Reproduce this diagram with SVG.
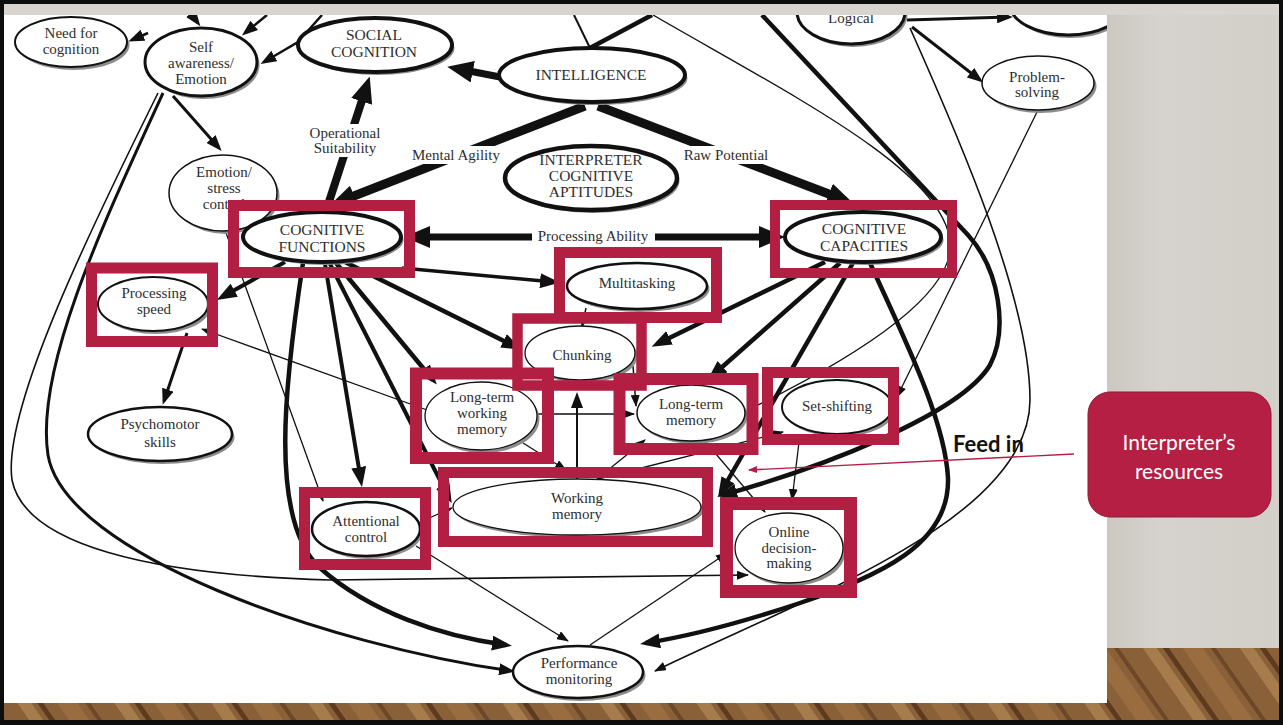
<svg xmlns="http://www.w3.org/2000/svg" width="1283" height="725" viewBox="0 0 1283 725">
<defs>
<style>
.e{fill:#fff;stroke:#111}
.sh{fill:#8c8c8c}
.t{font-family:"Liberation Serif","Times New Roman",serif;font-size:15px;fill:#2e2e2e;text-anchor:middle}
.cp{font-size:15.5px}
.rb{fill:none;stroke:#b31f43}
.c path,.c line,.c polyline{fill:none;stroke:#111;stroke-linecap:butt}
.lb{fill:#fff}
.rt{font-family:Lato,"Open Sans",sans-serif;font-size:21px;fill:#fff;text-anchor:middle}
</style>
<marker id="aS" viewBox="0 0 12 9" markerUnits="userSpaceOnUse" markerWidth="12" markerHeight="9" refX="11" refY="4.5" orient="auto"><path d="M0,0L12,4.5L0,9z" fill="#111"/></marker>
<marker id="aM" viewBox="0 0 16 12" markerUnits="userSpaceOnUse" markerWidth="16" markerHeight="12" refX="12" refY="6" orient="auto"><path d="M0,0L16,6L0,12z" fill="#111"/></marker>
<marker id="aL" viewBox="0 0 20 15" markerUnits="userSpaceOnUse" markerWidth="20" markerHeight="15" refX="14" refY="7.5" orient="auto"><path d="M0,0L20,7.5L0,15z" fill="#111"/></marker>
<marker id="aB" viewBox="0 0 26 22" markerUnits="userSpaceOnUse" markerWidth="26" markerHeight="22" refX="14" refY="11" orient="auto-start-reverse"><path d="M0,0L26,11L0,22z" fill="#111"/></marker>
<marker id="aR" viewBox="0 0 9 7" markerUnits="userSpaceOnUse" markerWidth="9" markerHeight="7" refX="8" refY="3.5" orient="auto"><path d="M0,0L9,3.5L0,7z" fill="#b31f43"/></marker>
<clipPath id="cw"><rect x="4" y="15" width="1103" height="688"/></clipPath>
<linearGradient id="gp" x1="0" y1="0" x2="1" y2="0"><stop offset="0" stop-color="#cbc7c1"/><stop offset="0.3" stop-color="#d6d3ce"/><stop offset="1" stop-color="#d2cec8"/></linearGradient>
<pattern id="wp" patternUnits="userSpaceOnUse" width="97" height="80" patternTransform="skewX(35)">
<rect width="97" height="80" fill="#8a6039"/>
<rect x="10" width="14" height="80" fill="#a67c4d"/>
<rect x="30" width="6" height="80" fill="#5e3b1f"/>
<rect x="50" width="20" height="80" fill="#9a6d40"/>
<rect x="78" width="5" height="80" fill="#6e4728"/>
</pattern>
</defs>

<rect x="0" y="0" width="1283" height="725" fill="#0d0d0d"/>
<rect x="4" y="4" width="1275" height="716" fill="#d8d5d0"/>
<rect x="1107" y="15" width="172" height="633" fill="url(#gp)"/>
<rect x="4" y="648" width="1275" height="72" fill="url(#wp)"/>
<rect x="4" y="15" width="1103" height="688" fill="#fff"/>

<g clip-path="url(#cw)">
<g id="connectors" class="c">
<line x1="192" y1="15" x2="198" y2="23" stroke-width="2.5" marker-end="url(#aM)"/>
<line x1="267" y1="15" x2="245" y2="33" stroke-width="2.5" marker-end="url(#aM)"/>
<polyline points="322,15 298,42 264,62" stroke-width="2.5" marker-end="url(#aM)"/>
<line x1="148" y1="33" x2="132" y2="40" stroke-width="2.5" marker-end="url(#aM)"/>
<line x1="173" y1="96" x2="219" y2="148" stroke-width="3" marker-end="url(#aM)"/>
<path d="M158,93 C90,230 2,410 12,480 C25,545 150,575 330,580 L748,575" stroke-width="1.6" marker-end="url(#aS)"/>
<path d="M163,93 C100,230 35,370 48,455 C65,555 330,645 511,671" stroke-width="3" marker-end="url(#aM)"/>
<line x1="225" y1="230" x2="323" y2="501" stroke-width="1.3" marker-end="url(#aS)"/>
<line x1="574" y1="15" x2="590" y2="48" stroke-width="2"/>
<line x1="590" y1="48" x2="652" y2="15" stroke-width="4.5"/>
<line x1="500" y1="77" x2="459" y2="69" stroke-width="7" marker-end="url(#aB)"/>
<line x1="585" y1="106" x2="341" y2="201" stroke-width="9" marker-end="url(#aB)"/>
<line x1="598" y1="106" x2="842" y2="199" stroke-width="9" marker-end="url(#aB)"/>
<line x1="326" y1="211" x2="366" y2="88" stroke-width="8" marker-end="url(#aB)"/>
<line x1="416" y1="237" x2="773" y2="237" stroke-width="7" marker-start="url(#aB)" marker-end="url(#aB)"/>
<line x1="285" y1="262" x2="222" y2="297" stroke-width="4" marker-end="url(#aL)"/>
<path d="M303,263 C285,380 268,520 320,568 C370,612 440,636 506,645" stroke-width="4.5" marker-end="url(#aL)"/>
<line x1="325" y1="264" x2="361" y2="481" stroke-width="4" marker-end="url(#aL)"/>
<line x1="330" y1="264" x2="449" y2="498" stroke-width="4" marker-end="url(#aL)"/>
<line x1="336" y1="263" x2="433" y2="380" stroke-width="4.5" marker-end="url(#aL)"/>
<line x1="345" y1="262" x2="516" y2="347" stroke-width="4.5" marker-end="url(#aL)"/>
<line x1="402" y1="268" x2="554" y2="282" stroke-width="3.5" marker-end="url(#aL)"/>
<line x1="187" y1="333" x2="164" y2="401" stroke-width="3" marker-end="url(#aM)"/>
<line x1="427" y1="410" x2="202" y2="329" stroke-width="1.3" marker-end="url(#aS)"/>
<line x1="825" y1="262" x2="657" y2="344" stroke-width="4.5" marker-end="url(#aL)"/>
<line x1="840" y1="263" x2="712" y2="376" stroke-width="4.5" marker-end="url(#aL)"/>
<line x1="853" y1="263" x2="721" y2="492" stroke-width="4.5" marker-end="url(#aL)"/>
<path d="M870,263 C905,340 945,420 948,478 C950,545 880,575 800,603 C740,623 690,636 646,643" stroke-width="4.5" marker-end="url(#aL)"/>
<path d="M762,15 L968,235 C1000,270 1008,330 990,365 C960,415 820,468 723,495" stroke-width="4.5" marker-end="url(#aL)"/>
<line x1="907" y1="20" x2="1009" y2="17" stroke-width="3" marker-end="url(#aM)"/>
<line x1="912" y1="27" x2="980" y2="80" stroke-width="3" marker-end="url(#aM)"/>
<path d="M910,28 C960,140 1030,300 1030,400 C1030,520 800,600 655,671" stroke-width="1.6" marker-end="url(#aS)"/>
<path d="M653,15 C800,100 940,170 950,240 C958,300 830,370 748,410" stroke-width="1.3"/>
<line x1="1038" y1="110" x2="897" y2="397" stroke-width="1.3" marker-end="url(#aS)"/>
<line x1="800" y1="434" x2="792" y2="500" stroke-width="1.3" marker-end="url(#aS)"/>
<line x1="598" y1="479" x2="783" y2="432" stroke-width="1.3" marker-end="url(#aS)"/>
<line x1="597" y1="479" x2="645" y2="440" stroke-width="1.3" marker-end="url(#aS)"/>
<line x1="577" y1="479" x2="577" y2="396" stroke-width="2" marker-end="url(#aM)"/>
<line x1="537" y1="414" x2="634" y2="414" stroke-width="1.3" marker-end="url(#aS)"/>
<line x1="523" y1="443" x2="566" y2="470" stroke-width="1.3" marker-end="url(#aS)"/>
<line x1="633" y1="366" x2="636" y2="406" stroke-width="1.5" marker-end="url(#aS)"/>
<line x1="586" y1="308" x2="582" y2="327" stroke-width="1.5" marker-end="url(#aS)"/>
<line x1="420" y1="522" x2="452" y2="508" stroke-width="1.3" marker-end="url(#aS)"/>
<line x1="416" y1="546" x2="568" y2="641" stroke-width="1.3" marker-end="url(#aS)"/>
<line x1="590" y1="645" x2="727" y2="553" stroke-width="1.3" marker-end="url(#aS)"/>
<line x1="705" y1="441" x2="765" y2="512" stroke-width="1.3" marker-end="url(#aS)"/>
<rect class="lb" x="306" y="124" width="78" height="33"/>
<text class="t" x="345" y="138">Operational</text>
<text class="t" x="345" y="153">Suitability</text>
<rect class="lb" x="408" y="146" width="96" height="18"/>
<text class="t" x="456" y="160">Mental Agility</text>
<rect class="lb" x="680" y="146" width="92" height="18"/>
<text class="t" x="726" y="160">Raw Potential</text>
<rect class="lb" x="532" y="227" width="123" height="19"/>
<text class="t" x="593" y="241">Processing Ability</text>
</g>

<g id="n-need"><ellipse class="sh" cx="73.5" cy="45" rx="56" ry="25"/><ellipse class="e" cx="71" cy="42" rx="56" ry="25" stroke-width="2"/><text class="t" x="71" y="38">Need for</text><text class="t" x="71" y="54">cognition</text></g>
<g id="n-self"><ellipse class="sh" cx="203.5" cy="65" rx="56" ry="34"/><ellipse class="e" cx="201" cy="62" rx="56" ry="34" stroke-width="3"/><text class="t" x="201" y="52">Self</text><text class="t" x="201" y="68">awareness/</text><text class="t" x="201" y="84">Emotion</text></g>
<g id="n-social"><ellipse class="sh" cx="377.5" cy="48" rx="77" ry="27"/><ellipse class="e" cx="375" cy="45" rx="77" ry="27" stroke-width="4"/><text class="t cp" x="374" y="40">SOCIAL</text><text class="t cp" x="374" y="57">COGNITION</text></g>
<g id="n-intelligence"><ellipse class="sh" cx="594.5" cy="78" rx="93" ry="27"/><ellipse class="e" cx="592" cy="75" rx="93" ry="27" stroke-width="4"/><text class="t cp" x="591" y="80">INTELLIGENCE</text></g>
<g id="n-interpreter"><ellipse class="sh" cx="593.5" cy="181" rx="86" ry="32"/><ellipse class="e" cx="591" cy="178" rx="86" ry="32" stroke-width="4.5"/><text class="t cp" x="591" y="165">INTERPRETER</text><text class="t cp" x="591" y="181">COGNITIVE</text><text class="t cp" x="591" y="197">APTITUDES</text></g>
<g id="n-logical"><ellipse class="sh" cx="853.5" cy="15" rx="54" ry="32"/><ellipse class="e" cx="851" cy="12" rx="54" ry="32" stroke-width="3"/><text class="t" x="851" y="23">Logical</text></g>
<g id="n-topright"><ellipse class="sh" cx="1070.5" cy="7" rx="58" ry="31"/><ellipse class="e" cx="1068" cy="4" rx="58" ry="31" stroke-width="3"/></g>
<g id="n-problem"><ellipse class="sh" cx="1040.5" cy="86" rx="56" ry="27"/><ellipse class="e" cx="1038" cy="83" rx="56" ry="27" stroke-width="1.5"/><text class="t" x="1037" y="82">Problem-</text><text class="t" x="1037" y="97">solving</text></g>
<g id="n-emotion"><ellipse class="sh" cx="225.5" cy="196" rx="54" ry="38"/><ellipse class="e" cx="223" cy="193" rx="54" ry="38" stroke-width="1.5"/><text class="t" x="224" y="177">Emotion/</text><text class="t" x="224" y="193">stress</text><text class="t" x="224" y="209">control</text></g>
<g id="n-functions"><ellipse class="sh" cx="324.5" cy="240" rx="79" ry="25"/><ellipse class="e" cx="322" cy="237" rx="79" ry="25" stroke-width="4"/><text class="t cp" x="322" y="235">COGNITIVE</text><text class="t cp" x="322" y="252">FUNCTIONS</text></g>
<g id="n-capacities"><ellipse class="sh" cx="865.5" cy="240" rx="78" ry="25"/><ellipse class="e" cx="863" cy="237" rx="78" ry="25" stroke-width="4"/><text class="t cp" x="864" y="234">COGNITIVE</text><text class="t cp" x="864" y="251">CAPACITIES</text></g>
<g id="n-multitasking"><ellipse class="sh" cx="639.5" cy="289" rx="70" ry="23"/><ellipse class="e" cx="637" cy="286" rx="70" ry="23" stroke-width="2.5"/><text class="t" x="637" y="288">Multitasking</text></g>
<g id="n-procspeed"><ellipse class="sh" cx="155.5" cy="307" rx="55" ry="27"/><ellipse class="e" cx="153" cy="304" rx="55" ry="27" stroke-width="2"/><text class="t" x="154" y="298">Processing</text><text class="t" x="154" y="314">speed</text></g>
<g id="n-chunking"><ellipse class="sh" cx="582.5" cy="356" rx="55" ry="27"/><ellipse class="e" cx="580" cy="353" rx="55" ry="27" stroke-width="1.3"/><text class="t" x="582" y="360">Chunking</text></g>
<g id="n-psychomotor"><ellipse class="sh" cx="162.5" cy="437" rx="72" ry="27"/><ellipse class="e" cx="160" cy="434" rx="72" ry="27" stroke-width="2.5"/><text class="t" x="160" y="429">Psychomotor</text><text class="t" x="160" y="447">skills</text></g>
<g id="n-ltwm"><ellipse class="sh" cx="483.5" cy="419" rx="56" ry="34"/><ellipse class="e" cx="481" cy="416" rx="56" ry="34" stroke-width="1.3"/><text class="t" x="482" y="402">Long-term</text><text class="t" x="482" y="418">working</text><text class="t" x="482" y="434">memory</text></g>
<g id="n-ltm"><ellipse class="sh" cx="693.5" cy="416" rx="54" ry="28"/><ellipse class="e" cx="691" cy="413" rx="54" ry="28" stroke-width="1.5"/><text class="t" x="691" y="409">Long-term</text><text class="t" x="691" y="425">memory</text></g>
<g id="n-setshifting"><ellipse class="sh" cx="839.5" cy="410" rx="55" ry="27"/><ellipse class="e" cx="837" cy="407" rx="55" ry="27" stroke-width="2"/><text class="t" x="837" y="411">Set-shifting</text></g>
<g id="n-wm"><ellipse class="sh" cx="579.5" cy="510" rx="124" ry="28"/><ellipse class="e" cx="577" cy="507" rx="124" ry="28" stroke-width="1.3"/><text class="t" x="577" y="503">Working</text><text class="t" x="577" y="519">memory</text></g>
<g id="n-attentional"><ellipse class="sh" cx="368.5" cy="532" rx="54" ry="27"/><ellipse class="e" cx="366" cy="529" rx="54" ry="27" stroke-width="2.5"/><text class="t" x="366" y="526">Attentional</text><text class="t" x="366" y="542">control</text></g>
<g id="n-online"><ellipse class="sh" cx="791.5" cy="551" rx="54" ry="35"/><ellipse class="e" cx="789" cy="548" rx="54" ry="35" stroke-width="1.3"/><text class="t" x="789" y="537">Online</text><text class="t" x="789" y="553">decision-</text><text class="t" x="789" y="568">making</text></g>
<g id="n-performance"><ellipse class="sh" cx="580.5" cy="675" rx="65" ry="26"/><ellipse class="e" cx="578" cy="672" rx="65" ry="26" stroke-width="2.5"/><text class="t" x="579" y="668">Performance</text><text class="t" x="579" y="684">monitoring</text></g>
</g>

<g id="highlights">
<rect class="rb" x="233.5" y="205.5" width="176" height="67" stroke-width="11"/>
<rect class="rb" x="775" y="205" width="177" height="68" stroke-width="10"/>
<rect class="rb" x="559.5" y="252.5" width="157" height="65" stroke-width="11"/>
<rect class="rb" x="91.5" y="268" width="121" height="73.5" stroke-width="11"/>
<rect class="rb" x="517.5" y="318.5" width="124" height="67" stroke-width="10.5"/>
<rect class="rb" x="416" y="373.5" width="132" height="84.5" stroke-width="12"/>
<rect class="rb" x="619.5" y="379" width="133" height="70" stroke-width="12"/>
<rect class="rb" x="767.5" y="372.5" width="126" height="67" stroke-width="11"/>
<rect class="rb" x="443.5" y="472.5" width="264" height="69" stroke-width="11"/>
<rect class="rb" x="304.5" y="492.5" width="121" height="72" stroke-width="11"/>
<rect class="rb" x="726.5" y="503.5" width="124" height="88" stroke-width="13"/>
</g>

<g id="n-resources">
<rect x="1088" y="392" width="183" height="125" rx="22" fill="#b51f44" stroke="#8e1a36" stroke-width="1"/>
<text class="rt" x="1179" y="450">Interpreter’s</text>
<text class="rt" x="1179" y="479">resources</text>
</g>
<g id="feed-in">
<line x1="1074" y1="454" x2="749" y2="470" stroke="#b31f43" stroke-width="1.3" marker-end="url(#aR)"/>
<text x="953" y="452" font-family="Lato,'Open Sans',sans-serif" font-size="22" font-weight="bold" fill="#111">Feed in</text>
</g>
</svg>
